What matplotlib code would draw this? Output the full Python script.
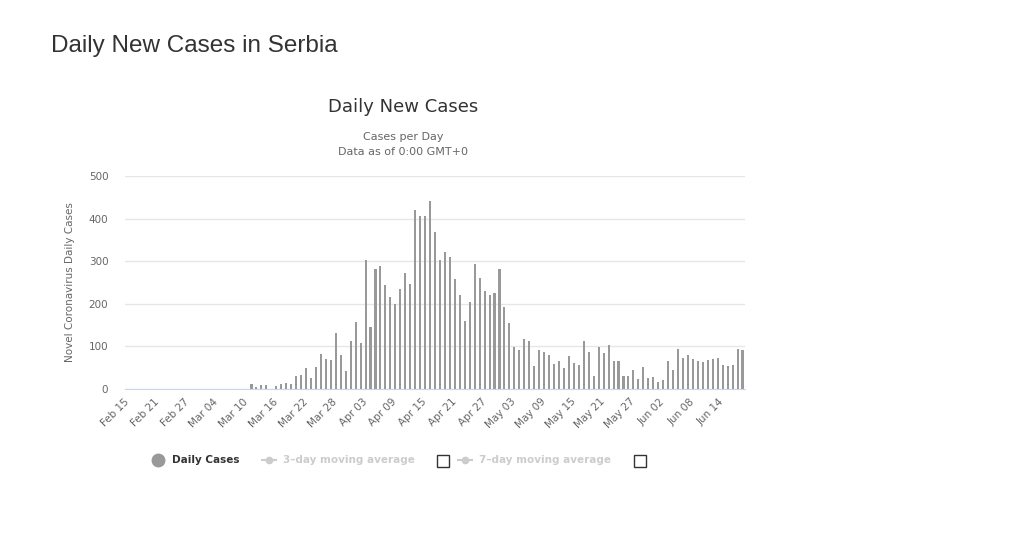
import datetime
import matplotlib
matplotlib.use('Agg')
import matplotlib.pyplot as plt
from matplotlib.lines import Line2D
from matplotlib.patches import Rectangle

# daily new cases, Feb 15 .. Jun 18
start_date = datetime.date(2020, 2, 15)
feb_mar10 = [0] * 25
march = [12, 5, 10, 10, 0, 7, 12, 14, 12,
         31, 33, 50, 26, 52, 81, 71, 69, 131, 80, 43, 113]
april = [157, 108, 302, 146, 281, 288, 244, 216, 199, 234,
         272, 246, 421, 407, 405, 442, 368, 302, 321, 309,
         258, 220, 160, 204, 293, 260, 230, 220, 225, 281]
may = [192, 155, 99, 92, 118, 113, 55, 92, 87, 80,
       59, 66, 50, 78, 62, 57, 113, 87, 31, 99,
       85, 104, 66, 66, 31, 31, 45, 24, 52, 26, 28]
june = [17, 21, 66, 45, 94, 73, 80, 71, 66, 64,
        69, 71, 73, 57, 54, 57, 94, 92]

daily_cases = feb_mar10 + march + april + may + june
dates = [start_date + datetime.timedelta(days=i) for i in range(len(daily_cases))]
date_labels = [d.strftime('%b %d') for d in dates]
y_ticks = [0, 100, 200, 300, 400, 500]

W, H = 1011, 537
fig = plt.figure(figsize=(W / 100, H / 100), dpi=100)
fig.patch.set_facecolor('white')

def fx(px):
    return px / W

def fy(py):
    return 1 - py / H

ax = fig.add_axes([fx(125), fy(389), fx(745) - fx(125), fy(176) - fy(389)])
x = list(range(len(daily_cases)))
ax.bar(x, daily_cases, width=0.42, color='#999999', zorder=3)

ax.set_xlim(-0.5, len(daily_cases) - 0.5)
ax.set_ylim(0, 500)
ax.set_yticks(y_ticks)
ax.set_yticklabels([str(v) for v in y_ticks], color='#666666', fontsize=7.5)
ax.grid(axis='y', color='#e6e6e6', linewidth=1, zorder=0)
for s in ['top', 'right', 'left']:
    ax.spines[s].set_visible(False)
ax.spines['bottom'].set_color('#ccd6eb')
ax.spines['bottom'].set_zorder(4)
ax.tick_params(axis='y', length=0, pad=12)
ax.tick_params(axis='x', length=0, pad=8)

tick_pos = x[::6]
ax.set_xticks(tick_pos)
ax.set_xticklabels([date_labels[i] for i in tick_pos], rotation=45, ha='right',
                   va='center', rotation_mode='anchor', color='#666666', fontsize=7.5)

ax.set_ylabel('Novel Coronavirus Daily Cases', color='#666666', fontsize=7.5, labelpad=10)

# titles
fig.text(fx(51), fy(46), 'Daily New Cases in Serbia', fontsize=17.5, color='#333333',
         family='Liberation Sans', ha='left', va='center')
fig.text(fx(403), fy(107), 'Daily New Cases', fontsize=13, color='#333333',
         ha='center', va='center')
fig.text(fx(403), fy(137), 'Cases per Day', fontsize=8, color='#666666',
         ha='center', va='center')
fig.text(fx(403), fy(152), 'Data as of 0:00 GMT+0', fontsize=8, color='#666666',
         ha='center', va='center')

# legend (drawn by hand to mimic the original)
ly = fy(460)
fig.lines.append(Line2D([fx(158)], [ly], transform=fig.transFigure, marker='o',
                        markersize=9, color='#999999', linestyle='none'))
fig.text(fx(172), ly, 'Daily Cases', fontsize=7.5, weight='bold', color='#333333',
         ha='left', va='center')
for x0, label, box_x in [(262, '3–day moving average', 437),
                         (458, '7–day moving average', 634)]:
    fig.lines.append(Line2D([fx(x0), fx(x0 + 14)], [ly, ly], transform=fig.transFigure,
                            color='#cccccc', linewidth=1.5))
    fig.lines.append(Line2D([fx(x0 + 7)], [ly], transform=fig.transFigure, marker='o',
                            markersize=4.5, color='#cccccc'))
    fig.text(fx(x0 + 21), ly, label, fontsize=7.5, weight='bold', color='#cccccc',
             ha='left', va='center')
    fig.patches.append(Rectangle((fx(box_x), fy(467)), 12 / W, 12 / H,
                                 transform=fig.transFigure, facecolor='white',
                                 edgecolor='#333333', linewidth=1))

fig.savefig('out.png', dpi=100)
